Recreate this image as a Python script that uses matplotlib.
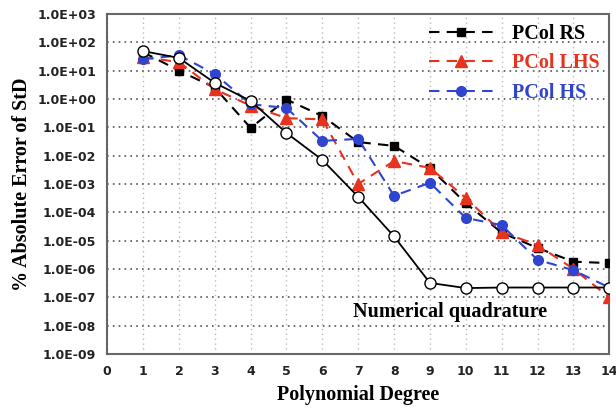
import matplotlib
matplotlib.use('Agg')
import matplotlib.pyplot as plt
from matplotlib.ticker import FixedLocator, FuncFormatter

# polynomial degree
degree = [1, 2, 3, 4, 5, 6, 7, 8, 9, 10, 11, 12, 13, 14]

# % absolute error of StD
quadrature = [49, 28, 3.7, 0.85, 0.063, 7.0e-3, 3.5e-4, 1.4e-5, 3.2e-7, 2.1e-7,
              2.2e-7, 2.2e-7, 2.2e-7, 2.2e-7]
pcol_rs = [45, 10, 2.5, 0.095, 0.95, 0.25, 0.03, 0.022, 3.6e-3, 2.1e-4,
           1.9e-5, 5.5e-6, 1.8e-6, 1.6e-6]
pcol_lhs = [30, 20, 2.2, 0.58, 0.21, 0.19, 1.0e-3, 6.4e-3, 3.7e-3, 3.2e-4,
            2.0e-5, 7.0e-6, 1.0e-6, 1.0e-7]
pcol_hs = [25, 35, 7.6, 0.65, 0.48, 0.033, 0.039, 3.8e-4, 1.1e-3, 6.3e-5,
           3.5e-5, 2.1e-6, 9.0e-7, 2.2e-7]

yticks = [10.0 ** k for k in range(-9, 4)]

red = '#e8321e'
blue = '#2f44cf'

fig = plt.figure(figsize=(6.16, 4.11), dpi=100)
ax = fig.add_axes([0.174, 0.139, 0.815, 0.827])

dash = (0, (5, 3.5))
ax.plot(degree, pcol_rs, color='black', linestyle=dash, linewidth=1.5,
        marker='s', markersize=6, label='PCol RS', zorder=3)
ax.plot(degree, pcol_lhs, color=red, linestyle=dash, linewidth=1.5,
        marker='^', markersize=8, label='PCol LHS', zorder=3)
ax.plot(degree, pcol_hs, color=blue, linestyle=dash, linewidth=1.5,
        marker='o', markersize=7, label='PCol HS', zorder=3)
ax.plot(degree, quadrature, color='black', linewidth=1.3, marker='o',
        markersize=8, markerfacecolor='white', markeredgecolor='black',
        markeredgewidth=1.0, zorder=4)

ax.set_yscale('log')
ax.set_ylim(1e-9, 1e3)
ax.set_xlim(0, 14)
ax.xaxis.set_major_locator(FixedLocator(range(0, 15)))
ax.yaxis.set_major_locator(FixedLocator(yticks))
ax.yaxis.set_minor_locator(FixedLocator([]))
ax.yaxis.set_major_formatter(FuncFormatter(lambda v, p: '%.1E' % v))

ax.grid(True, axis='y', linestyle=(0, (1, 2.5)), color='#555555', linewidth=1.2)
ax.grid(True, axis='x', linestyle=(0, (1, 2.5)), color='#bbbbbb', linewidth=1.0)
ax.set_axisbelow(True)
ax.tick_params(length=0, pad=8)
for lab in ax.get_xticklabels() + ax.get_yticklabels():
    lab.set_fontweight('bold')
    lab.set_fontsize(9)
    lab.set_color('#222222')
for s in ax.spines.values():
    s.set_color('#666666')
    s.set_linewidth(1.5)

ax.set_xlabel('Polynomial Degree', fontfamily='Liberation Serif',
              fontweight='bold', fontsize=14.5, labelpad=5)
ax.set_ylabel('% Absolute Error of StD', fontfamily='Liberation Serif',
              fontweight='bold', fontsize=14.5, labelpad=4)

ax.text(9.55, 3e-8, 'Numerical quadrature', fontfamily='Liberation Serif',
        fontweight='bold', fontsize=14.5, ha='center', va='center')

leg = ax.legend(loc='upper right', frameon=False, handlelength=3.2,
                prop={'family': 'Liberation Serif', 'weight': 'bold', 'size': 14.5},
                labelspacing=0.46, borderaxespad=0.1, handletextpad=0.9)
for txt, c in zip(leg.get_texts(), ['black', red, blue]):
    txt.set_color(c)

fig.savefig('out.png', dpi=100)
